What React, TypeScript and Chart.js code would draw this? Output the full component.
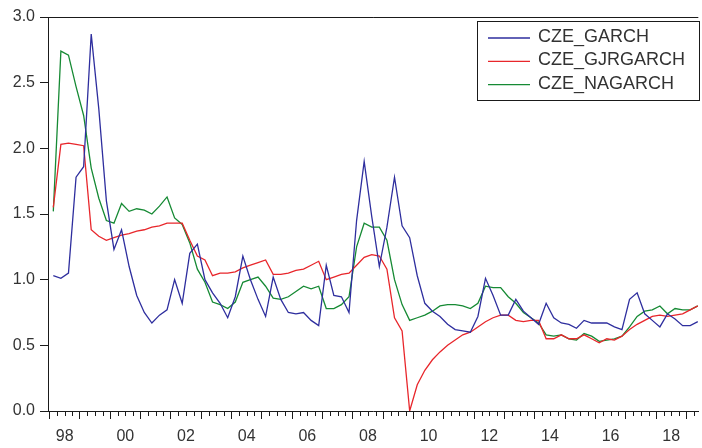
import React, { useEffect, useRef } from "react";
import { Chart, registerables } from "chart.js";

Chart.register(...registerables);

const START_YEAR = 1998;
const N_QUARTERS = 86;
const QUARTERS: string[] = Array.from({ length: N_QUARTERS }, (_, i) => `${START_YEAR + Math.floor(i / 4)}Q${(i % 4) + 1}`);

const YEAR_LABELS = ["98", "00", "02", "04", "06", "08", "10", "12", "14", "16", "18"];
const Y_TICKS = [0, 0.5, 1, 1.5, 2, 2.5, 3];

const CZE_GARCH = [
  1.03, 1.01, 1.05, 1.78, 1.86, 2.87, 2.3, 1.6, 1.23, 1.38,
  1.1, 0.88, 0.75, 0.67, 0.73, 0.77, 1.0, 0.82, 1.2, 1.27,
  1.0, 0.9, 0.82, 0.71, 0.87, 1.18, 1.0, 0.85, 0.72, 1.02,
  0.85, 0.75, 0.74, 0.75, 0.69, 0.65, 1.11, 0.88, 0.87, 0.75,
  1.45, 1.9, 1.48, 1.1, 1.4, 1.78, 1.41, 1.32, 1.03, 0.82,
  0.76, 0.72, 0.66, 0.62, 0.61, 0.6, 0.72, 1.01, 0.88, 0.73,
  0.73, 0.85, 0.76, 0.71, 0.66, 0.82, 0.71, 0.67, 0.66, 0.63,
  0.69, 0.67, 0.67, 0.67, 0.64, 0.62, 0.85, 0.9, 0.74, 0.69,
  0.64, 0.74, 0.7, 0.65, 0.65, 0.68,
];

const CZE_GJRGARCH = [
  1.55, 2.03, 2.04, 2.03, 2.02, 1.38, 1.33, 1.3, 1.32, 1.34,
  1.35, 1.37, 1.38, 1.4, 1.41, 1.43, 1.43, 1.43, 1.3, 1.18,
  1.15, 1.03, 1.05, 1.05, 1.06, 1.09, 1.11, 1.13, 1.15, 1.04,
  1.04, 1.05, 1.07, 1.08, 1.11, 1.14, 1.0, 1.02, 1.04, 1.05,
  1.11, 1.17, 1.19, 1.18, 1.08, 0.71, 0.61, 0.0, 0.2, 0.31,
  0.39, 0.45, 0.5, 0.54, 0.58, 0.6, 0.64, 0.68, 0.71, 0.73,
  0.73, 0.69, 0.68, 0.69, 0.69, 0.55, 0.55, 0.58, 0.55, 0.55,
  0.58, 0.55, 0.52, 0.55, 0.54, 0.57, 0.62, 0.66, 0.69, 0.72,
  0.73, 0.72, 0.73, 0.74, 0.77, 0.8,
];

const CZE_NAGARCH = [
  1.52, 2.74, 2.71, 2.47, 2.25, 1.85, 1.62, 1.45, 1.43, 1.58,
  1.52, 1.54, 1.53, 1.5, 1.56, 1.63, 1.47, 1.42, 1.28, 1.08,
  0.98, 0.83, 0.81, 0.78, 0.83, 0.98, 1.0, 1.02, 0.95, 0.86,
  0.85, 0.87, 0.91, 0.95, 0.93, 0.95, 0.78, 0.78, 0.81, 0.87,
  1.25, 1.43, 1.4, 1.4, 1.3, 1.0, 0.81, 0.69, 0.71, 0.73,
  0.76, 0.8, 0.81, 0.81, 0.8, 0.78, 0.82, 0.95, 0.94, 0.94,
  0.87, 0.82, 0.75, 0.71, 0.67, 0.58, 0.57, 0.58, 0.55, 0.54,
  0.59, 0.57, 0.53, 0.54, 0.55, 0.57, 0.64, 0.72, 0.76, 0.77,
  0.8, 0.74, 0.78, 0.77, 0.77, 0.8,
];

const SERIES_NAMES = ["CZE_GARCH", "CZE_GJRGARCH", "CZE_NAGARCH"];
const SERIES_COLORS = ["#2e2e9e", "#e8262b", "#168a34"];

const TEXT_COLOR = "#333333";
const AXIS_COLOR = "#1a1a1a";
const FONT_FAMILY = "'Liberation Sans', Arial, sans-serif";

const toPoints = (vals: number[]) => vals.map((v, i) => ({ x: i + 0.5, y: v }));

const framePlugin = {
  id: "framePlugin",
  afterDraw(chart: any) {
    const { ctx, chartArea, scales } = chart;
    const xs = scales.x;
    ctx.save();
    ctx.strokeStyle = AXIS_COLOR;
    ctx.lineWidth = 1;
    // top frame line
    ctx.beginPath();
    ctx.moveTo(chartArea.left, chartArea.top + 0.5);
    ctx.lineTo(chartArea.right, chartArea.top + 0.5);
    ctx.stroke();
    // minor quarter ticks
    ctx.beginPath();
    for (let b = 0; b < N_QUARTERS; b++) {
      if (b % 4 === 0) continue;
      const px = Math.round(xs.getPixelForValue(b)) + 0.5;
      ctx.moveTo(px, chartArea.bottom);
      ctx.lineTo(px, chartArea.bottom + 5);
    }
    ctx.stroke();

    // legend box
    const bx = 477.5, by = 21.5, bw = 222, bh = 79;
    ctx.fillStyle = "#ffffff";
    ctx.fillRect(bx, by, bw, bh);
    ctx.strokeStyle = AXIS_COLOR;
    ctx.strokeRect(bx, by, bw, bh);
    ctx.font = `18px ${FONT_FAMILY}`;
    ctx.textBaseline = "middle";
    ctx.textAlign = "left";
    chart.data.datasets.forEach((ds: any, i: number) => {
      const cy = 37 + i * 23.3;
      ctx.strokeStyle = ds.borderColor;
      ctx.lineWidth = 1.3;
      ctx.beginPath();
      ctx.moveTo(488, cy + 1);
      ctx.lineTo(530, cy + 1);
      ctx.stroke();
      ctx.fillStyle = TEXT_COLOR;
      ctx.fillText(ds.label, 538, cy);
    });
    ctx.restore();
  },
};

export default function App() {
  const canvasRef = useRef<HTMLCanvasElement | null>(null);

  useEffect(() => {
    document.body.style.margin = "0";
    const canvas = canvasRef.current;
    if (!canvas) return;
    const seriesValues = [CZE_GARCH, CZE_GJRGARCH, CZE_NAGARCH];
    const chart = new Chart(canvas, {
      type: "line",
      data: {
        labels: QUARTERS,
        datasets: seriesValues.map((vals, i) => ({
          label: SERIES_NAMES[i],
          data: toPoints(vals),
          borderColor: SERIES_COLORS[i],
          backgroundColor: SERIES_COLORS[i],
          borderWidth: 1.3,
          pointRadius: 0,
          tension: 0,
          fill: false,
        })),
      },
      options: {
        animation: false,
        responsive: false,
        devicePixelRatio: 1,
        layout: { padding: { top: 17, left: 0, right: 0, bottom: 0 } },
        plugins: {
          legend: { display: false },
          tooltip: { enabled: false },
        },
        scales: {
          x: {
            type: "linear",
            min: -0.2,
            max: 85.57,
            afterFit: (scale: any) => {
              scale.height = 37;
            },
            afterBuildTicks: (scale: any) => {
              const ticks = [];
              for (let b = 0; b <= N_QUARTERS - 1; b++) ticks.push({ value: b });
              scale.ticks = ticks;
            },
            ticks: {
              autoSkip: false,
              maxRotation: 0,
              minRotation: 0,
              padding: 8,
              color: TEXT_COLOR,
              font: { size: 16, family: FONT_FAMILY },
              callback: (value: any) => {
                const v = Number(value);
                if ((v - 2) % 8 === 0) {
                  const idx = (v - 2) / 8;
                  return YEAR_LABELS[idx] ?? "";
                }
                return "";
              },
            },
            grid: {
              drawOnChartArea: false,
              tickLength: 8,
              tickColor: (ctx: any) => (ctx.tick && ctx.tick.value % 4 === 0 ? AXIS_COLOR : "rgba(0,0,0,0)"),
            },
            border: { display: true, color: AXIS_COLOR, width: 1 },
          },
          y: {
            type: "linear",
            min: 0,
            max: 3,
            afterFit: (scale: any) => {
              scale.width = 48;
            },
            afterBuildTicks: (scale: any) => {
              scale.ticks = Y_TICKS.map((v) => ({ value: v }));
            },
            ticks: {
              padding: 5,
              color: TEXT_COLOR,
              font: { size: 16, family: FONT_FAMILY },
              callback: (value: any) => Number(value).toFixed(1),
            },
            grid: {
              drawOnChartArea: false,
              tickLength: 8,
              tickColor: AXIS_COLOR,
            },
            border: { display: true, color: AXIS_COLOR, width: 1 },
          },
        },
      },
      plugins: [framePlugin],
    });
    return () => chart.destroy();
  }, []);

  return (
    <div style={{ width: 702, height: 448, background: "#ffffff" }}>
      <canvas ref={canvasRef} width={702} height={448} style={{ display: "block" }} />
    </div>
  );
}
